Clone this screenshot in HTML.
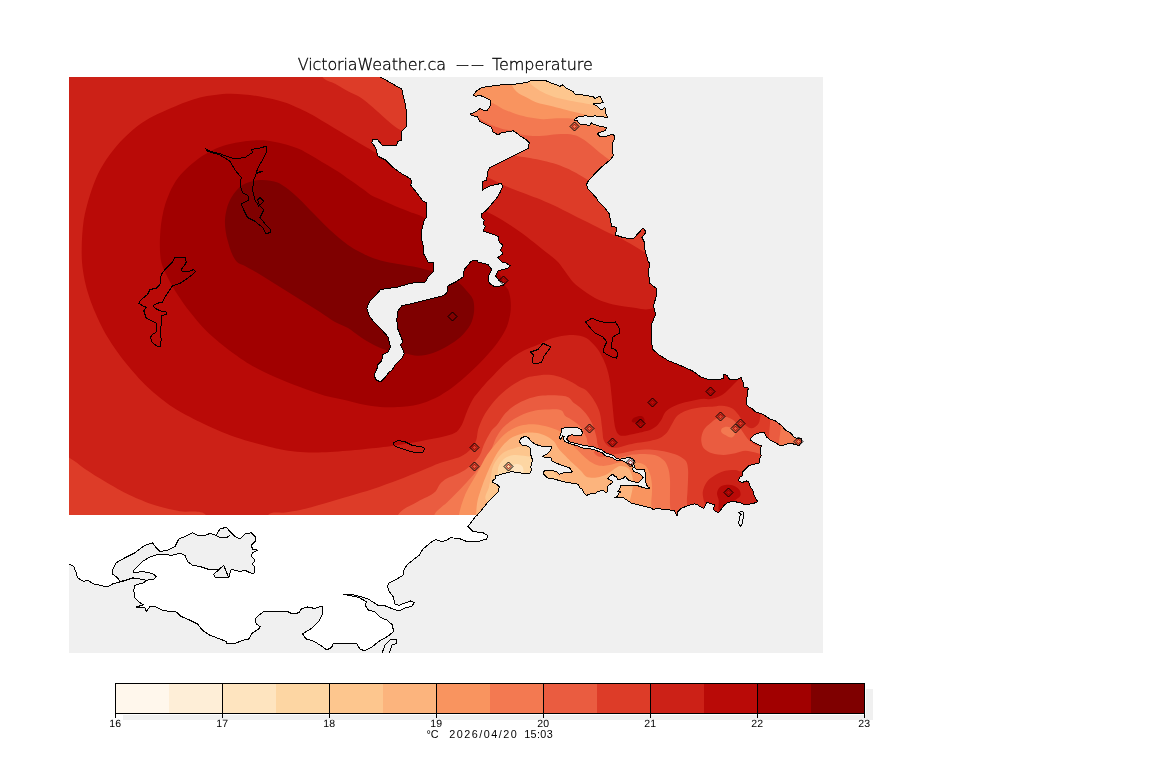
<!DOCTYPE html>
<html lang="en"><head><meta charset="utf-8"><title>VictoriaWeather.ca -- Temperature</title>
<style>html,body{margin:0;padding:0;background:#fff;}body{width:1152px;height:768px;overflow:hidden;font-family:"Liberation Sans",sans-serif;}svg{display:block;}</style>
</head><body>
<svg width="1152" height="768" viewBox="0 0 1152 768" shape-rendering="crispEdges">
<defs><clipPath id="data"><rect x="69" y="77" width="754" height="438"/></clipPath>
<clipPath id="map"><rect x="69" y="77" width="754" height="576"/></clipPath></defs>
<rect x="0" y="0" width="1152" height="768" fill="#ffffff"/>
<rect x="69" y="77" width="754" height="576" fill="#f0f0f0"/>
<g clip-path="url(#data)" shape-rendering="geometricPrecision">
<rect x="60" y="70" width="780" height="460" fill="#cc2117"/>
<path d="M322.5 70 C321.02 71.48 321.42 75.20 322.5 77 C324.68 80.66 331.28 81.67 335 83.75 C338.93 85.94 344.03 89.12 348 91.25 C351.69 93.24 356.97 95.24 360.5 97.5 C364.55 100.09 369.34 104.39 373 107.5 C376.85 110.76 381.65 115.49 385.5 118.75 C389.16 121.86 393.85 126.33 398 128.75 C399.74 129.77 402.33 130.64 404.25 131.25 C408.88 132.72 416.19 138.01 420 135 L420 70 L322.5 70 Z" fill="#dd3c28"/>
<path d="M69.25 457.75 C74.47 460.30 80.17 465.77 85 469 C90.88 472.93 98.90 477.92 105 481.5 C112.38 485.83 122.26 491.59 130 495.25 C137.30 498.70 147.30 502.80 155 505.25 C162.35 507.59 172.42 509.80 180 511.25 C187.74 512.73 200.84 509.04 206 515 C208.95 518.40 209.18 526.82 206 530 L60 530 L60 455 C62.32 453.27 66.65 456.48 69.25 457.75 Z" fill="#dd3c28"/>
<path d="M375 152.5 C373.80 151.88 372.40 150.71 371.25 150 C368.68 148.41 365.11 146.53 362.5 145 C358.73 142.79 353.75 139.75 350 137.5 C346.25 135.25 341.25 132.25 337.5 130 C333.75 127.75 328.75 124.75 325 122.5 C321.25 120.25 316.33 117.10 312.5 115 C308.82 112.98 303.81 110.49 300 108.75 C295.57 106.72 289.63 104.01 285 102.5 C277.67 100.11 267.61 97.76 260 96.5 C251.08 95.03 239.04 93.60 230 93.75 C220.93 93.90 208.82 95.37 200 97.5 C191.47 99.56 180.56 104.03 172.5 107.5 C163.26 111.48 150.81 116.83 142.5 122.5 C134.16 128.18 124.19 137.44 117.5 145 C111.43 151.86 104.35 161.95 100 170 C96.16 177.11 92.49 187.31 90 195 C87.62 202.36 84.85 212.35 83.75 220 C81.95 232.48 81.20 249.41 82 262 C82.48 269.59 84.35 279.63 86.25 287 C88.24 294.69 91.90 304.68 95 312 C98.27 319.72 103.21 329.80 107.5 337 C112.18 344.87 119.30 354.83 125 362 C131.28 369.90 140.16 380.08 147.5 387 C154.49 393.59 164.50 401.68 172.5 407 C180.32 412.21 191.55 417.89 200 422 C210.28 426.99 224.23 433.20 235 437 C246.02 440.88 261.17 444.63 272.5 447.5 C274.74 448.07 277.73 448.77 280 449.2 C284.98 450.14 291.66 451.20 296.7 451.7 C301.66 452.19 308.31 452.45 313.3 452.5 C318.31 452.55 324.99 452.25 330 452 C335.02 451.74 341.69 451.22 346.7 450.8 C351.69 450.38 358.32 449.69 363.3 449.2 C368.31 448.70 375.00 448.07 380 447.5 C384.00 447.04 389.32 446.38 393.3 445.8 C399.32 444.92 407.32 443.58 413.3 442.5 C418.32 441.59 424.99 440.20 430 439.2 C435.01 438.19 441.81 437.29 446.7 435.8 C449.80 434.86 454.14 433.69 456.7 431.7 C458.68 430.16 460.48 427.19 461.7 425 C463.01 422.66 464.02 419.19 465 416.7 C466.00 414.18 467.19 410.77 468.3 408.3 C469.66 405.29 471.52 401.28 473.3 398.5 C475.05 395.77 477.94 392.51 480 390 C481.76 387.86 484.14 385.05 486 383 C488.24 380.53 491.37 377.38 493.7 375 C497.15 371.46 501.57 366.54 505.3 363.3 C509.09 360.01 514.41 355.91 518.7 353.3 C521.63 351.51 525.86 349.70 529 348.3 C531.75 347.07 535.55 345.73 538.3 344.5 C540.86 343.35 544.11 341.48 546.7 340.4 C549.13 339.38 552.46 338.22 555 337.5 C557.45 336.81 560.78 336.08 563.3 335.7 C565.80 335.33 569.17 334.98 571.7 335 C574.20 335.02 577.56 335.24 580 335.8 C582.09 336.28 584.85 337.21 586.7 338.3 C588.68 339.47 590.87 341.68 592.5 343.3 C594.38 345.18 596.77 347.82 598.3 350 C599.78 352.11 601.35 355.19 602.5 357.5 C603.60 359.70 604.95 362.69 605.8 365 C606.70 367.44 607.67 370.78 608.3 373.3 C608.93 375.79 609.59 379.16 610 381.7 C610.32 383.67 610.57 386.32 610.8 388.3 C611.09 390.82 611.44 394.18 611.7 396.7 C611.95 399.19 612.26 402.51 612.5 405 C612.74 407.49 613.05 410.81 613.3 413.3 C613.56 415.82 613.84 419.19 614.2 421.7 C614.49 423.69 614.83 426.37 615.4 428.3 C615.86 429.86 616.54 431.99 617.5 433.3 C618.08 434.09 619.09 435.04 620 435.4 C621.40 435.96 623.50 435.80 625 435.7 C626.77 435.59 629.07 434.96 630.8 434.6 C632.58 434.24 634.93 433.71 636.7 433.3 C638.68 432.84 641.32 432.19 643.3 431.7 C645.31 431.20 648.09 430.80 650 430 C652.02 429.16 654.60 427.69 656.25 426.25 C658.06 424.67 659.96 422.02 661.25 420 C662.61 417.88 663.42 414.46 665 412.5 C666.51 410.63 669.19 408.73 671.25 407.5 C673.70 406.03 677.29 404.66 680 403.75 C682.93 402.76 686.98 401.90 690 401.25 C694.17 400.36 699.74 398.92 704 398.75 C705.42 398.69 707.29 399.35 708.7 399.2 C712.86 398.76 718.34 397.02 722 395 C724.24 393.77 726.62 391.23 728.5 389.5 C730.84 387.35 733.75 384.25 736 382 C736.90 381.10 738.08 379.88 739 379 C745.16 373.14 759.46 368.48 760 360 L700 290 L653.5 308 C651.30 308.64 648.29 309.44 646 309.5 C642.97 309.57 639.00 308.45 636 308 C629.10 306.96 619.79 306.13 613 304.5 C608.39 303.39 602.31 301.48 598 299.5 C594.03 297.67 589.09 294.50 585.5 292 C581.56 289.26 576.34 285.45 573 282 C570.39 279.31 567.75 275.00 565.5 272 C563.25 269.00 560.54 264.76 558 262 C556.37 260.24 553.85 258.23 552 256.7 C549.46 254.60 545.89 252.03 543.3 250 C538.28 246.06 531.81 240.53 526.7 236.7 C521.81 233.03 515.13 228.33 510 225 C505.10 221.82 498.42 217.81 493.3 215 C490.36 213.39 486.27 211.55 483.3 210 C477.76 207.10 470.35 203.24 465 200 L420 170 L375 152.5 Z" fill="#b90a07"/>
<path d="M425.5 218.5 C421.60 215.30 414.67 213.91 410 212 C405.52 210.16 399.46 207.90 395 206 C390.97 204.29 385.70 201.77 381.7 200 C378.95 198.78 375.11 197.49 372.5 196 C369.28 194.16 365.52 190.90 362.5 188.75 C358.77 186.09 353.75 182.62 350 180 C346.25 177.38 341.34 173.74 337.5 171.25 C333.83 168.87 328.75 166.00 325 163.75 C321.25 161.50 316.30 158.41 312.5 156.25 C308.21 153.82 302.60 150.28 298 148.5 C289.20 145.09 276.88 141.82 267.5 140.75 C260.79 139.99 251.70 140.41 245 141.25 C237.36 142.20 227.20 144.27 220 147 C212.97 149.67 204.05 154.53 198 159 C190.75 164.36 181.70 172.63 176.5 180 C171.74 186.75 167.48 197.12 165 205 C162.71 212.27 161.09 222.40 160.5 230 C159.76 239.57 159.26 252.61 161.25 262 C162.26 266.77 165.35 272.63 167.5 277 C170.17 282.43 174.24 289.41 177.5 294.5 C180.98 299.93 186.02 306.92 190 312 C194.26 317.44 200.14 324.59 205 329.5 C210.61 335.17 218.73 342.08 225 347 C232.21 352.65 242.13 359.82 250 364.5 C257.20 368.79 267.35 373.56 275 377 C282.37 380.31 292.44 384.17 300 387 C307.44 389.79 317.35 393.59 325 395.75 C331.80 397.67 341.12 399.14 348 400.75 C352.52 401.81 358.45 403.61 363 404.5 C368.20 405.52 375.21 406.62 380.5 407 C385.74 407.37 392.76 407.33 398 407 C404.04 406.62 412.13 405.94 418 404.5 C423.44 403.17 430.48 400.48 435.5 398 C441.06 395.26 448.01 390.68 453 387 C458.57 382.90 465.43 376.70 470.5 372 C475.17 367.68 481.21 361.70 485.5 357 C489.45 352.67 494.64 346.80 498 342 C500.99 337.73 504.79 331.83 506.75 327 C508.50 322.70 509.93 316.60 510.5 312 C510.96 308.28 510.96 303.22 510.5 299.5 C510.12 296.43 509.37 292.27 508 289.5 C507.15 287.78 504.98 286.15 504 284.5 C502.42 281.84 501.54 277.68 500 275 C496.27 268.50 491.08 259.39 485 255 L440 240 C433.80 235.29 431.51 223.44 425.5 218.5 Z" fill="#a10000"/>
<path d="M431 271 C427.11 269.92 421.94 268.37 418 267.5 C412.05 266.18 403.99 265.12 398 264 C392.74 263.01 385.66 261.94 380.5 260.5 C376.66 259.43 371.66 257.57 368 256 C364.92 254.68 360.94 252.61 358 251 C354.93 249.32 350.85 247.03 348 245 C342.27 240.93 335.19 234.74 330 230 C323.73 224.28 316.00 216.00 310 210 C305.50 205.50 299.86 199.11 295 195 C290.08 190.83 283.49 184.90 277.5 182.5 C272.58 180.53 265.29 179.64 260 180 C254.55 180.37 247.08 182.02 242.5 185 C237.59 188.20 232.65 194.78 230 200 C227.20 205.51 225.37 213.83 225 220 C224.64 226.04 225.91 234.17 227.5 240 C229.39 246.94 232.06 256.78 237 262 C238.84 263.95 242.63 264.74 245 266 C249.56 268.43 255.56 271.85 260 274.5 C266.08 278.12 274.00 283.25 280 287 C286.00 290.75 294.00 295.75 300 299.5 C306.00 303.25 314.06 308.16 320 312 C324.54 314.93 330.28 319.36 335 322 C338.75 324.10 344.29 325.84 348 328 C351.99 330.33 356.64 334.46 360.5 337 C364.15 339.40 369.10 342.53 373 344.5 C377.35 346.70 383.30 349.46 388 350.75 C392.68 352.03 399.22 352.20 404 353 C408.22 353.71 413.72 355.72 418 355.75 C422.57 355.78 428.65 354.42 433 353 C437.75 351.45 443.69 348.28 448 345.75 C451.95 343.43 457.16 340.13 460.5 337 C464.00 333.71 468.31 328.77 470.5 324.5 C472.28 321.03 473.62 315.88 474 312 C474.36 308.26 474.33 303.02 473 299.5 C471.67 295.99 467.96 292.33 465.5 289.5 C463.42 287.10 460.55 283.90 458 282 C454.45 279.36 449.10 276.67 445 275 C440.95 273.35 435.21 272.17 431 271 Z" fill="#7f0000"/>
<path d="M631.7 421.25 C631.59 417.82 638.74 415.17 642 416.25 C643.61 416.78 644.97 419.60 644.6 421.25 C644.30 422.58 642.32 423.69 641 424 C639.51 424.34 637.46 423.44 636 423 C634.67 422.60 631.75 422.64 631.7 421.25 Z" fill="#a10000"/>
<path d="M470 170 C473.64 173.97 481.76 174.46 486.67 176.67 C488.71 177.59 491.33 179.00 493.33 180 C496.33 181.50 500.28 183.60 503.33 185 C506.29 186.35 510.31 187.97 513.33 189.17 C517.30 190.74 522.67 192.66 526.67 194.17 C529.67 195.31 533.69 196.79 536.67 198 C541.61 200.00 548.16 202.76 553 205 C559.09 207.82 567.00 212.00 573 215 C579.00 218.00 587.00 222.00 593 225 C597.50 227.25 603.44 230.38 608 232.5 C610.59 233.70 614.18 235.00 616.75 236.25 C620.82 238.23 626.06 241.26 630 243.5 C634.85 246.27 641.07 250.38 646 253 C651.57 255.96 659.39 264.88 665 262 L700 70 L440 70 L470 170 Z" fill="#dd3c28"/>
<path d="M500 150 C503.85 152.92 510.33 154.61 515 155.83 C518.42 156.73 523.18 156.92 526.67 157.5 C530.68 158.16 536.03 159.13 540 160 C544.03 160.88 549.39 162.11 553.33 163.33 C557.41 164.60 562.75 166.62 566.67 168.33 C569.74 169.67 573.73 171.72 576.67 173.33 C579.22 174.73 582.50 176.83 585 178.33 C586.25 179.08 587.91 180.10 589.17 180.83 C591.40 182.12 594.13 185.42 596.67 185 L700 70 L440 70 L500 150 Z" fill="#ea5c40"/>
<path d="M465 110 C468.12 113.06 473.71 115.31 477.5 117.5 C479.73 118.79 482.72 120.47 485 121.67 C487.47 122.97 490.75 124.76 493.33 125.83 C496.25 127.04 500.27 128.38 503.33 129.17 C506.78 130.06 511.76 129.85 515 131.33 C515.87 131.73 516.63 132.92 517.5 133.33 C520.97 134.95 526.19 135.45 530 135.83 C533.98 136.22 539.34 136.08 543.33 135.83 C547.36 135.58 552.64 134.42 556.67 134.17 C560.66 133.92 566.03 133.68 570 134.17 C572.05 134.42 574.76 135.05 576.67 135.83 C579.89 137.14 583.83 139.68 586.67 141.67 C589.87 143.91 593.65 147.53 596.67 150 C599.15 152.03 602.42 154.78 605 156.67 C606.45 157.73 608.44 159.10 610 160 C612.90 161.68 616.72 165.68 620 165 L700 70 L440 70 L465 110 Z" fill="#f37951"/>
<path d="M476.67 103.33 C480.68 104.75 486.67 101.59 490.83 102.5 C494.98 103.41 499.46 107.42 503.33 109.17 C507.22 110.93 512.59 112.90 516.67 114.17 C520.61 115.39 525.95 116.74 530 117.5 C533.96 118.24 539.30 119.05 543.33 119.17 C547.34 119.29 552.66 118.46 556.67 118.33 C559.67 118.24 563.67 118.18 566.67 118.33 C569.18 118.46 572.56 118.58 575 119.17 C579.69 120.30 585.38 123.60 590 125 C594.41 126.34 600.51 127.28 605 128.33 C609.51 129.38 615.47 132.96 620 132 L700 70 L440 70 L476.67 103.33 Z" fill="#f9945f"/>
<path d="M510 76.67 C508.49 78.60 510.69 82.42 511.67 84.67 C512.71 87.03 514.76 89.93 516.67 91.67 C519.24 94.01 523.62 95.85 526.67 97.5 C529.62 99.10 533.52 101.34 536.67 102.5 C540.54 103.93 546.00 104.83 550 105.83 C554.00 106.83 559.33 108.17 563.33 109.17 C567.33 110.17 572.67 111.50 576.67 112.5 C579.67 113.25 583.73 114.05 586.67 115 C587.69 115.33 588.97 116.03 590 116.33 C595.86 118.02 603.98 120.99 610 120 L700 70 L510 76.67 Z" fill="#fcb47d"/>
<path d="M527.5 76.67 C526.53 78.04 528.28 80.58 529.17 82 C530.45 84.04 533.08 86.05 535 87.5 C537.32 89.26 540.73 91.19 543.33 92.5 C546.23 93.97 550.24 95.65 553.33 96.67 C557.25 97.97 562.64 99.12 566.67 100 C570.65 100.87 575.99 101.80 580 102.5 C583.99 103.20 589.31 104.20 593.33 104.67 C598.31 105.25 605.05 106.60 610 105.83 L700 70 L527.5 76.67 Z" fill="#fdc68e"/>
<path d="M268 530 C264.82 526.82 265.06 518.41 268 515 C271.37 511.10 279.91 513.30 285 512.5 C289.51 511.79 295.54 510.96 300 510 C306.83 508.52 315.77 505.89 322.5 504 C330.18 501.85 340.36 498.77 348 496.5 C355.51 494.27 365.56 491.45 373 489 C380.57 486.50 390.55 482.83 398 480 C405.55 477.13 415.52 473.04 423 470 C428.11 467.93 434.80 464.84 440 463 C442.95 461.95 447.01 460.95 450 460 C453.39 458.93 458.10 457.90 461.25 456.25 C464.57 454.51 468.77 451.56 471.25 448.75 C473.25 446.48 475.22 442.84 476.25 440 C477.28 437.14 477.22 432.94 478 430 C478.57 427.84 479.63 425.05 480.5 423 C481.77 420.01 483.62 416.08 485.3 413.3 C487.52 409.62 490.91 404.97 493.7 401.7 C496.45 398.47 500.47 394.45 503.7 391.7 C506.97 388.91 511.62 385.52 515.3 383.3 C518.65 381.27 523.28 378.72 527 377.5 C529.81 376.58 533.78 376.28 536.7 375.8 C538.68 375.48 541.30 374.93 543.3 374.8 C545.82 374.64 549.20 374.69 551.7 375 C553.99 375.28 556.99 376.03 559.2 376.7 C561.23 377.31 563.86 378.36 565.8 379.2 C567.85 380.09 570.54 381.41 572.5 382.5 C574.57 383.66 577.13 385.54 579.2 386.7 C581.13 387.78 584.05 388.65 585.8 390 C587.92 391.63 590.10 394.55 591.7 396.7 C593.09 398.57 594.70 401.24 595.8 403.3 C596.96 405.48 598.40 408.46 599.2 410.8 C599.87 412.76 600.44 415.47 600.8 417.5 C601.20 419.73 601.43 422.75 601.7 425 C601.94 427.01 602.23 429.69 602.5 431.7 C602.84 434.27 602.72 437.87 603.75 440.25 C604.71 442.45 606.68 445.28 608.75 446.5 C610.72 447.65 613.97 447.84 616.25 447.75 C619.34 447.63 623.24 445.96 626.25 445.25 C629.61 444.46 634.10 443.38 637.5 442.75 C641.23 442.06 646.30 441.71 650 440.9 C653.05 440.23 657.22 439.43 660 438 C662.38 436.78 665.24 434.51 667 432.5 C668.95 430.27 670.47 426.53 672 424 C673.47 421.58 675.01 418.01 677 416 C678.75 414.22 681.74 412.57 684 411.5 C686.42 410.35 689.89 409.37 692.5 408.75 C695.90 407.95 700.53 407.33 704 407 C706.39 406.77 709.60 406.85 712 406.7 C715.01 406.51 719.00 405.57 722 405.8 C725.08 406.04 729.31 406.78 732 408.3 C734.47 409.70 736.90 412.80 738.7 415 C740.97 417.79 742.60 422.62 745.3 425 C746.98 426.48 749.77 428.51 752 428.3 C754.50 428.07 757.31 425.39 758.7 423.3 C760.29 420.91 759.59 416.50 761 414 C763.92 408.83 769.15 401.04 775 400 L840 430 L810 480 L770 530 L268 530 Z" fill="#dd3c28"/>
<path d="M398 530 C394.82 526.82 395.89 518.97 398 515 C401.40 508.61 411.85 505.32 418 501.5 C423.13 498.31 431.18 495.73 435.5 491.5 C437.38 489.66 438.30 486.00 440 484 C441.59 482.14 444.16 480.03 446.25 478.75 C448.68 477.25 452.41 476.20 455 475 C458.04 473.59 462.21 471.86 465 470 C467.88 468.09 471.32 464.96 473.75 462.5 C475.81 460.41 478.53 457.53 480 455 C481.61 452.23 482.47 447.94 483.75 445 C484.89 442.39 486.61 438.99 488 436.5 C489.11 434.50 490.58 431.80 492 430 C493.31 428.34 495.63 426.62 497 425 C499.78 421.71 502.37 416.46 505.3 413.3 C507.95 410.44 512.03 407.13 515.3 405 C518.58 402.86 523.33 400.56 527 399.2 C530.86 397.77 536.22 396.38 540.3 395.8 C544.76 395.16 550.81 395.01 555.3 395.3 C559.37 395.56 565.11 395.57 568.7 397.5 C570.49 398.47 571.77 401.15 573.3 402.5 C574.93 403.94 577.54 405.30 579.2 406.7 C581.08 408.29 583.40 410.63 585 412.5 C586.39 414.13 588.04 416.49 589.2 418.3 C590.13 419.75 591.29 421.74 592 423.3 C593.11 425.74 594.22 429.14 595 431.7 C595.60 433.65 596.30 436.29 596.7 438.3 C597.04 439.99 596.96 442.36 597.5 444 C598.24 446.24 599.50 449.32 601.25 450.9 C603.06 452.53 606.35 453.59 608.75 454 C612.08 454.57 616.65 453.82 620 453.4 C623.79 452.92 628.72 451.47 632.5 450.9 C636.23 450.33 641.23 449.70 645 449.6 C648.75 449.50 653.77 449.78 657.5 450.25 C661.29 450.73 666.32 451.70 670 452.75 C673.08 453.63 677.21 454.92 680 456.5 C682.09 457.69 684.97 459.47 686.25 461.5 C687.48 463.45 687.74 466.70 688 469 C688.39 472.35 688.07 476.88 688 480.25 C687.92 483.63 687.68 488.13 687.5 491.5 C687.34 494.50 686.85 498.49 686.9 501.5 C686.93 503.46 687.43 506.04 687.5 508 C687.73 514.60 691.72 525.39 687 530 L398 530 Z" fill="#ea5c40"/>
<path d="M434 530 C430.84 526.79 432.47 519.14 434.25 515 C436.45 509.88 443.54 505.92 447.5 502 C450.66 498.87 454.89 494.69 458 491.5 C460.74 488.69 464.35 484.89 467 482 C469.44 479.34 472.61 475.71 475 473 C477.11 470.61 480.11 467.57 482 465 C483.87 462.45 485.90 458.73 487.5 456 C488.89 453.62 490.81 450.48 492 448 C493.40 445.09 494.49 440.86 496 438 C497.68 434.81 500.29 430.69 502.7 428 C504.87 425.57 508.32 422.85 511 421 C514.59 418.54 519.69 415.69 523.7 414 C527.05 412.59 531.73 411.16 535.3 410.5 C539.26 409.76 544.67 409.45 548.7 409.5 C552.71 409.55 558.61 408.66 562 410.8 C563.48 411.73 563.76 414.57 565 415.8 C566.43 417.22 569.10 418.11 570.8 419.2 C572.62 420.36 575.05 421.92 576.7 423.3 C578.33 424.66 580.46 426.58 581.7 428.3 C582.68 429.66 583.45 431.80 584.2 433.3 C584.95 434.80 586.13 436.72 586.7 438.3 C587.29 439.95 587.11 442.49 588 444 C588.92 445.55 590.96 447.05 592.5 448 C594.56 449.27 597.78 450.04 600 451 C602.28 451.99 605.25 453.45 607.5 454.5 C609.75 455.55 612.55 457.62 615 458 C617.24 458.34 620.27 457.42 622.5 457 C625.53 456.44 629.45 455.04 632.5 454.6 C636.22 454.07 641.25 453.81 645 454 C648.79 454.20 654.00 454.44 657.5 455.9 C660.09 456.98 663.26 459.29 665 461.5 C666.77 463.74 668.00 467.49 668.75 470.25 C669.54 473.17 669.81 477.23 670 480.25 C670.23 483.99 670.00 489.00 670 492.75 C670.00 496.12 669.87 500.63 670 504 C670.09 506.41 670.55 509.59 670.6 512 C670.71 517.40 673.88 526.24 670 530 L434 530 Z" fill="#f37951"/>
<path d="M594 451.5 C595.04 450.00 598.25 452.00 600 452.5 C601.87 453.04 606.01 453.05 606 455 C605.99 456.62 602.62 457.00 601 457 C599.38 457.00 597.22 456.06 596 455 C595.09 454.21 593.31 452.49 594 451.5 Z" fill="#ea5c40"/>
<path d="M458 530 C455.11 526.95 458.03 520.14 458.75 516 C459.87 509.52 462.45 501.06 465 495 C467.99 487.88 473.78 479.27 477.5 472.5 C480.38 467.26 483.72 459.99 487 455 C489.40 451.34 493.19 446.86 496 443.5 C497.94 441.19 500.48 438.04 502.7 436 C504.99 433.89 508.29 431.30 511 429.75 C513.82 428.14 517.86 426.44 521 425.6 C523.92 424.82 527.98 424.36 531 424.3 C534.01 424.24 538.03 424.70 541 425.2 C544.05 425.72 548.06 426.75 551 427.7 C553.55 428.52 557.00 429.62 559.3 431 C560.89 431.95 562.72 433.66 564 435 C565.02 436.07 566.06 437.76 567 438.9 C568.44 440.63 570.45 442.86 572 444.5 C573.82 446.43 576.38 448.88 578.25 450.75 C580.12 452.62 582.52 455.23 584.5 457 C586.29 458.60 588.73 460.71 590.75 462 C592.51 463.13 595.00 464.48 597 465.1 C598.81 465.66 601.36 466.00 603.25 466 C605.14 466.00 607.65 465.50 609.5 465.1 C611.41 464.68 613.86 463.74 615.75 463.25 C618.20 462.61 621.47 461.61 624 461.4 C627.29 461.13 631.75 461.39 635 462 C638.10 462.58 642.55 463.26 645 465.25 C647.35 467.16 648.95 471.16 650 474 C651.06 476.86 651.61 480.96 651.9 484 C652.18 486.99 652.00 491.00 651.9 494 C651.80 497.00 651.11 501.00 651.25 504 C651.36 506.43 652.35 509.58 652.5 512 C652.84 517.39 655.87 526.23 652 530 L458 530 Z" fill="#f9945f"/>
<path d="M476 530 C473.03 527.03 475.79 520.19 476 516 C476.23 511.48 476.60 505.43 477.5 501 C478.51 496.07 480.80 489.73 482.5 485 C484.25 480.12 486.86 473.72 489 469 C490.94 464.72 493.58 459.02 496 455 C497.86 451.90 500.59 447.89 503 445.2 C505.15 442.79 508.26 439.71 511 438 C513.74 436.29 517.92 434.97 521 434 C522.91 433.40 525.50 432.64 527.5 432.5 C531.10 432.24 535.99 432.65 539.5 433.5 C542.18 434.15 545.61 435.63 548 437 C550.06 438.18 552.71 440.04 554.3 441.8 C555.82 443.48 556.89 446.44 558.25 448.25 C559.92 450.47 562.58 453.08 564.5 455.1 C566.34 457.03 568.82 459.57 570.75 461.4 C572.57 463.13 575.17 465.27 577 467 C578.54 468.46 580.54 470.46 582 472 C583.24 473.31 584.41 475.65 586 476.5 C588.40 477.79 592.28 477.84 595 477.75 C596.84 477.69 599.24 477.02 601 476.5 C603.00 475.91 605.66 475.00 607.5 474 C609.29 473.03 611.29 471.11 613 470 C615.03 468.69 617.60 466.33 620 466 C622.45 465.66 626.12 466.39 628 468 C630.96 470.54 632.52 476.13 633 480 C633.74 486.02 631.41 494.10 630 500 C627.79 509.23 627.70 524.45 620 530 L476 530 Z" fill="#fcb47d"/>
<path d="M486 500 C483.51 496.87 488.19 490.92 489 487 C489.68 483.71 490.44 479.31 491 476 C491.32 474.11 491.54 471.56 492 469.7 C492.38 468.16 493.04 466.14 493.7 464.7 C494.31 463.37 495.37 461.71 496.2 460.5 C497.11 459.18 498.40 457.46 499.5 456.3 C500.65 455.08 502.31 453.54 503.7 452.6 C505.09 451.66 507.15 450.75 508.7 450.1 C510.16 449.49 512.19 448.88 513.7 448.4 C515.28 447.89 517.37 447.12 519 446.8 C520.77 446.45 523.20 446.06 525 446.2 C526.55 446.32 528.55 446.96 530 447.5 C534.71 449.27 541.49 451.39 545 455 C548.46 458.56 549.15 465.93 552 470 C553.95 472.78 557.38 475.85 560 478 C564.18 481.43 574.77 482.60 575 488 C575.25 493.76 565.44 498.09 560 500 C551.51 502.98 539.00 500.00 530 500 C516.80 500.00 494.22 510.33 486 500 Z" fill="#fdc68e"/>
<path d="M496 482 C494.25 479.87 497.42 475.73 497.8 473 C498.03 471.39 497.85 469.17 498.25 467.6 C498.63 466.14 499.47 464.26 500.3 463 C501.32 461.44 503.01 459.53 504.5 458.4 C505.84 457.39 507.90 456.40 509.5 455.9 C511.18 455.38 513.54 455.16 515.3 455.1 C517.07 455.04 519.44 455.32 521.2 455.5 C522.95 455.68 525.27 455.97 527 456.3 C528.52 456.59 530.78 456.56 532 457.5 C534.02 459.06 535.45 462.51 536 465 C537.09 469.99 538.72 478.50 535 482 C526.49 490.03 503.42 491.05 496 482 Z" fill="#fdd6a3"/>
<path d="M512 473 C511.01 471.25 511.20 468.15 512 466.3 C512.28 465.66 513.08 465.02 513.7 464.7 C514.60 464.23 515.99 464.00 517 464 C518.01 464.00 519.41 464.22 520.3 464.7 C521.23 465.21 522.39 466.22 522.8 467.2 C523.58 469.08 523.98 472.34 522.8 474 C521.73 475.50 518.83 476.19 517 476 C515.26 475.82 512.86 474.52 512 473 Z" fill="#fee4bf"/>
<path d="M701.2 440 C701.13 436.91 702.19 432.70 703.7 430 C705.08 427.54 708.17 425.15 710.3 423.3 C712.19 421.65 714.71 419.31 717 418.3 C719.32 417.28 722.77 416.49 725.3 416.7 C727.44 416.88 730.19 418.05 732 419.2 C734.38 420.72 736.90 423.62 738.7 425.8 C740.42 427.88 742.14 431.09 743.7 433.3 C745.15 435.35 746.93 438.22 748.7 440 C750.45 441.76 753.06 443.92 755.3 445 C757.17 445.90 759.99 446.19 762 446.7 C765.90 447.69 774.87 445.98 775 450 C775.13 454.10 766.10 454.07 762 454.2 C759.93 454.27 757.33 452.93 755.3 452.5 C752.32 451.87 748.34 450.68 745.3 450.8 C742.21 450.92 738.33 452.70 735.3 453.3 C731.85 453.98 727.22 455.00 723.7 455 C720.15 455.00 715.34 454.49 712 453.3 C709.26 452.32 705.48 450.60 703.7 448.3 C702.10 446.25 701.26 442.60 701.2 440 Z" fill="#ea5c40"/>
<path d="M722 428.3 C723.07 427.14 725.43 426.66 727 426.7 C729.14 426.75 732.17 427.69 733.7 429.2 C734.64 430.13 735.49 431.99 735.3 433.3 C735.07 434.89 733.54 437.07 732 437.5 C729.93 438.08 727.16 436.06 725.3 435 C723.93 434.22 721.71 433.19 721.2 431.7 C720.86 430.71 721.29 429.07 722 428.3 Z" fill="#f37951"/>
<path d="M770.3 410 C768.21 411.71 770.41 416.30 770.3 419 C770.06 425.01 769.13 433.00 768.7 439 C768.46 442.30 766.03 447.34 768 450 C775.70 460.41 798.93 466.73 810 460 C820.57 453.58 826.61 430.46 820 420 L770.3 410 Z" fill="#ea5c40"/>
<path d="M781 415 C778.75 416.98 781.17 422.00 781 425 C780.65 431.03 779.26 438.99 778.7 445 C778.42 447.99 776.08 452.68 778 455 C786.09 464.78 810.51 468.43 820 460 C828.97 452.03 827.93 429.01 820 420 C812.21 411.14 789.86 407.21 781 415 Z" fill="#f37951"/>
<path d="M750 465 C747.19 465.91 745.65 470.93 742.8 471.7 C740.57 472.30 737.60 470.16 735.3 470 C732.30 469.78 728.22 470.09 725.3 470.8 C722.14 471.57 718.09 473.33 715.3 475 C712.55 476.64 708.92 479.14 707 481.7 C705.04 484.30 703.27 488.48 702.8 491.7 C702.44 494.18 703.18 497.55 703.7 500 C704.03 501.54 705.02 503.45 705.3 505 C706.10 509.43 702.74 516.89 706 520 L790 520 L790 470 C782.00 460.93 761.51 461.28 750 465 Z" fill="#cc2117"/>
<path d="M717 493.3 C717.15 491.41 718.16 488.84 719.5 487.5 C720.84 486.16 723.43 485.29 725.3 485 C727.80 484.61 731.33 484.91 733.7 485.8 C735.71 486.56 738.39 488.16 739.5 490 C740.40 491.51 740.93 494.16 740.3 495.8 C739.60 497.63 736.91 498.88 735.3 500 C733.80 501.04 731.13 501.56 730 503 C728.65 504.72 729.57 508.48 728 510 C726.22 511.72 722.03 513.42 720 512 C717.03 509.93 719.34 503.56 718.7 500 C718.33 497.96 716.84 495.37 717 493.3 Z" fill="#b90a07"/>
</g>
<g clip-path="url(#map)">
<path d="M380.5 77 L388 81.25 L396.75 86.25 L401.75 88.75 L403 95 L405.5 105 L406.75 115 L406.75 126.25 L401.75 131.25 L401.75 140 L398 141.25 L396.75 145 L381.75 145 L378 140 L373 139.5 L371.75 142.5 L375.5 147.5 L378 156.25 L385.5 160 L393 167.5 L401.75 173.75 L410.5 178.75 L411.75 182.5 L410.5 185 L415.5 191.25 L423 201.25 L426.75 202.5 L426.75 217.5 L424.25 220 L421.75 230 L421.75 240 L423 245 L423 252.5 L428 262 L433 262 L433 272 L428 277 L425.5 282 L410.5 283.25 L398 287 L380.5 289.5 L375.5 295.75 L369.25 302 L366.75 308.25 L369.25 315.75 L373 320.75 L380.5 328.25 L388 337 L390.5 347 L388 352 L383 354.5 L381.75 360.75 L378 364.5 L376.75 369.5 L374.25 374.5 L375.5 379.5 L380.5 382 L385.5 377 L389.25 372 L391.75 370.75 L395.5 364.5 L401.75 358.25 L404.25 353.25 L400.5 344.5 L403 342 L398 329.5 L396.75 319.5 L398 310.75 L401.75 305.75 L413 303.25 L428 299.5 L443 295.75 L446.75 293.25 L448 285.75 L455.5 282 L463 277 L464.25 269.5 L470.5 262 L473 260 L476.75 260 L478 262 L478 262 L488 264.5 L491.75 269.5 L488 277 L489.25 283.25 L494.25 286.5 L503 285.75 L504.25 283.25 L499.25 280.75 L495.5 275.75 L498 270.75 L508 268.25 L510.5 265.75 L504.25 262 L501.75 262 L498 257.5 L503 253.75 L500.5 250 L503 245 L499.25 242.5 L498 236.25 L488 232.5 L483 231.25 L485.5 226.25 L483 223.75 L484.25 220 L481.75 217.5 L481.75 213.75 L486.75 210 L493 202.5 L496.67 198 L500 192.5 L502.5 186.67 L501.67 183.33 L490 185.83 L482.5 190 L482.5 181.67 L486.67 180 L487.5 171.67 L490 167.5 L498.33 163.33 L506.67 159.17 L516.67 154.17 L525 150 L528.33 148.33 L529.17 142.5 L526.67 140 L520 135.83 L516.67 133 L513.33 130.83 L505.83 132 L500 133.33 L498.33 135 L492.5 131.67 L491.67 127.5 L485 124.17 L480 121.67 L477.5 116.67 L472.5 115.83 L470 114.17 L475.83 111.67 L480 108.67 L483.33 110 L487.5 110 L489.17 107.5 L490.83 104.17 L490 100 L485 97.5 L480 95.33 L475.83 96.33 L473.33 95 L476.67 90.83 L481.67 87.5 L493.33 85.83 L503.33 84.67 L515 84.17 L526.67 82.5 L531.67 80.33 L545 80.33 L550 82.5 L556.67 85 L560 86.33 L562.5 85 L566.67 88.33 L573.33 91.67 L575 94.17 L583.33 95 L593.33 96.67 L595 98.33 L600 96.33 L601.67 99.17 L603.33 102.5 L600 103.33 L593.33 103.83 L596.67 105.83 L599.17 108.33 L601.67 110 L605 107.5 L605.83 113.33 L607.5 117.5 L601.67 116.67 L595 115.83 L590 116.67 L585.83 115.83 L578.33 116.67 L575 119.17 L574.17 120.83 L576.67 120 L580 124.17 L586.67 125 L589.17 125.83 L591.67 122.5 L593.33 124.17 L598.33 125.83 L606.67 127.5 L605 130.83 L599.17 132.5 L597.5 134.17 L600 136.67 L605 136.67 L610 135 L613.33 134.17 L615 137.5 L612.5 143.33 L612.5 150 L613.33 155.83 L610 160 L605 164.17 L600 168.33 L595 173.33 L591.67 177.5 L588.33 180.83 L586.67 184.17 L587.5 188.33 L591.67 192.5 L595 196.67 L596.67 198 L598 201.25 L605.5 208.75 L609.25 213.75 L610.5 220 L611.75 226.25 L616.75 227.5 L615.5 235 L623 237.5 L633 239 L634 238 L638.5 233 L643 228 L646.2 232 L642 237.5 L644.5 242.5 L645 250 L648.3 262 L649.75 262 L648.5 272 L649.75 283.25 L656 288.25 L656 297 L653.5 305.75 L655.5 314.5 L651.5 324.5 L651 339.5 L653 349.5 L658.5 354.5 L668.5 360.75 L681 365.75 L692.25 370.75 L701 377 L708.5 379.5 L718.5 380 L723.5 378.25 L723.5 374 L727.25 375.75 L729.75 379.5 L736 380 L741 377.5 L743.5 383.25 L744 387 L748.5 388.25 L747.83 390 L747 396.67 L746.17 404.17 L748.67 406.67 L752 408.33 L755.33 411.67 L760.33 413.33 L765.33 415.83 L770.33 419.17 L775.33 420.83 L778.67 423.33 L782 425.83 L785.33 430 L790.33 432.5 L793.67 436.67 L797 438.33 L801.17 438.67 L802 441.67 L798.67 445.83 L794.5 444.17 L789.5 443.33 L783.67 445 L780.33 445.83 L775.33 442.5 L770.33 440 L766.17 436.67 L764.5 433 L760.33 432.5 L755.33 434.17 L751.17 437.5 L750 439.67 L753.67 442.5 L758.67 445 L761.17 445.83 L760.33 450.83 L761.17 455.83 L759.5 459.17 L759 463.33 L753.67 464.17 L748.67 465.83 L745.33 469.17 L742.83 471.67 L742 475.83 L739.5 477.5 L738.67 480.83 L742 482.5 L747 480.83 L748.67 481.67 L750.33 487.5 L752.83 490 L753.67 494.17 L756.17 499.17 L757.83 501.67 L753.67 503.33 L748.67 504.17 L745.33 505 L742 503.33 L738.67 502.5 L733.67 501.33 L727.83 502.5 L724.5 505 L722 508.33 L718.67 512.5 L715.33 511.67 L713.67 509.17 L714.5 505 L710.33 503.33 L707 502.5 L705.33 505 L703.67 508.33 L700.33 506.67 L697.83 505 L694.5 503.83 L690.33 505 L685.33 506.67 L681.17 508.33 L677.83 511.67 L677 515.83 L675.67 513.33 L674.5 510.83 L670.33 510 L663.67 509.17 L655.33 508.67 L653.67 510 L652 508.33 L645.33 506.67 L638.67 505 L632 503.33 L632.08 504 L630 502.08 L626.67 500 L623.33 497.5 L619.17 497.08 L614.17 497.5 L615.83 497.08 L617.92 495.83 L618.33 493.33 L621.25 492.08 L617.92 491.67 L618.75 490 L619.83 489.17 L620.42 486.67 L621.25 485 L623.33 485.42 L627.5 485.83 L631.67 485.67 L634.17 485 L637.5 485.67 L641.67 487.08 L645.83 488.33 L649.17 488.75 L649.58 487.5 L647.5 486.67 L645.83 482.5 L645 478.33 L645.83 475 L645 471.67 L644.17 469.17 L641.67 469.58 L638.33 470 L635.42 468.75 L634.17 465.83 L633.33 463.33 L634.58 461.25 L632.92 459.17 L630 457.08 L626.67 457.92 L623.33 458.75 L619.17 459.17 L615.83 457.92 L613.33 455.42 L609.17 454.17 L605 452.5 L601.67 450 L596.67 448.33 L592.5 446.25 L585 445.83 L580 444.58 L575 443.33 L569.17 441.67 L566.67 439.17 L568.33 435.83 L571.67 434.67 L576.67 435.83 L581.67 435 L582.5 432.5 L580.83 429.17 L576.67 427.5 L566.67 427.5 L561.67 428.33 L560.83 434.17 L559.17 438.33 L560.83 439.17 L562.5 435.83 L564.17 436.67 L563.33 439.17 L565 441.67 L571.67 444.17 L580 446.67 L580 447.08 L584.17 448.33 L590 448.75 L594.17 449.58 L599.17 451.67 L603.33 453.33 L604.58 455.42 L608.33 456.67 L612.5 457.5 L614.58 459.58 L617.5 460.42 L621.67 460.42 L624.17 461.67 L626.67 462.92 L629.17 464.17 L631.67 465 L633.33 467.5 L632.5 468.75 L633.33 471.25 L636.67 472.5 L640 474.17 L642.5 476.67 L643.33 477.92 L641.67 479.17 L639.58 481.67 L637.5 482.5 L635 482.08 L631.67 481.25 L628.33 480 L626.67 478.33 L625.42 476.25 L624.17 477.5 L622.5 478.75 L620 479.17 L617.5 479.17 L616.67 476.67 L614.58 476.25 L612.5 474.17 L610.83 475.42 L608.75 477.5 L607.5 478.33 L610 480 L612.5 481.25 L612.92 482.5 L610.83 483.75 L608.33 485.42 L607.08 486.67 L607.5 489.17 L607.5 491.67 L605.83 492.5 L604.17 491.67 L603.75 490.42 L600.83 490.83 L596.67 492.08 L595.42 493.33 L592.5 493.33 L588.33 494.58 L586.67 495.42 L585 494.17 L583.33 491.67 L582.5 489.17 L580.83 488.75 L580 487.92 L578.33 484.17 L573.33 483.33 L566.67 482.5 L560 480.83 L555 479.17 L548.33 478.33 L544.17 475 L543.33 472.5 L545 470 L550.83 470 L556.67 471.67 L559.17 474.17 L564.17 472.5 L570 472.5 L572.5 471.67 L569.17 467.5 L563.33 465.83 L556.67 463.33 L551.67 460.83 L550.83 457.5 L546.67 457.5 L542.5 456.67 L546.67 454.17 L550.83 450 L551.67 447 L546.67 446.67 L540 445.83 L535 444.17 L530.83 440.83 L528.33 437.5 L525 436.33 L520.83 438.33 L519.5 441.67 L521.67 445 L526.67 445.83 L530 447.5 L530.83 455 L532.5 460 L530.83 466.67 L531.33 470 L530 473.33 L523.33 473.33 L518.33 472.5 L511.67 471.67 L501.67 474.17 L495.83 475.83 L495 479.17 L492 480.83 L492.5 482.5 L496.67 484.17 L499.17 486.67 L498.33 491.67 L493.33 496.67 L488.33 501.67 L481.67 510 L477 515.33 L476.75 516 L476.75 530 L830 530 L830 70 L380.5 70 Z" fill="#f0f0f0"/>
<path d="M69 515 L476.75 514.75 L468 526.5 L473 531.5 L483 532.75 L487.5 535.25 L486.75 539 L478 541.5 L466.75 541.5 L459.25 538.5 L450.5 537.75 L446.75 540.25 L441.75 541.5 L435.5 539.5 L430.5 542.75 L423 549 L419.25 555.25 L414.25 559 L408 564 L404.25 569 L403 575.25 L396.75 579 L389.25 582.75 L387.5 586.5 L389.25 591.5 L393 596.5 L395 604 L399.25 605.25 L405.5 602.75 L410.5 601 L414.25 602.75 L411.75 606.5 L405.5 607.75 L399.25 611 L393 609 L385.5 606 L378 605.25 L374.25 602.75 L368 599 L360.5 596.5 L353 594.75 L348 594.5 L343.75 594.5 L350 595.5 L358.3 597.3 L366.7 601.7 L365 605 L368.3 610 L375 611.7 L380 617.3 L386.7 620 L392.7 625 L393.3 631.7 L388.3 636 L378.3 641.7 L371.7 647.3 L365 650.7 L360 649.3 L356.7 643.3 L343.3 644 L333.3 643.3 L331.7 647.3 L326.7 650 L320 645 L313.3 641 L306.25 639 L302.5 634 L306.25 631.5 L312.5 627.75 L318.75 621.5 L322.5 614 L322 606 L315 608.5 L307.5 607 L301.25 609 L298.75 612.75 L292.5 614 L287.5 611.5 L280 611 L272.5 612 L263.75 611.5 L258.75 615.25 L255 619 L256.25 624 L260 626.5 L258.75 629 L252.5 632.75 L248.75 639 L242.5 640.25 L235 643.5 L226.25 644 L226.25 641.5 L220 639 L210 635.25 L202.5 630.25 L197.5 624 L190 620.25 L181.25 616.5 L176.25 612 L170 611.5 L162.5 610.25 L156.25 607 L150 606.5 L146.25 611.5 L145 607.75 L136.25 607 L143.75 604.75 L140 602.75 L135 597.75 L133.75 590.25 L135 585.25 L143.75 582.75 L146.25 580.25 L140 579 L132.5 578.25 L126.25 580.25 L120 582 L112.5 584 L107.5 587 L100 585.25 L93.75 584 L87.5 580.25 L83.75 581.5 L77.5 577.75 L76.25 572.75 L73.75 566.5 L69.25 564 L69 564 Z" fill="#ffffff"/>
<path d="M112.5 570.25 L116.25 562.75 L125 557.75 L135 552.75 L145 545.25 L152.5 542.75 L156.25 547.75 L160 551.5 L167.5 550.25 L175 546.5 L178.75 539 L185 536.5 L192.5 532.75 L197.5 535.25 L205 535.25 L210 533.5 L216.25 535.25 L220 529 L226.25 527.25 L230 531.5 L235 536.5 L240 539 L245 534 L251.25 532.75 L255 536.5 L255 541.5 L251.25 545.25 L252.5 549 L257.5 550.25 L252.5 552.75 L251.25 556.5 L255 560.25 L252.5 564 L255 567.75 L253.75 574 L250 572.75 L245 570.25 L240 571.5 L235 570.25 L231.25 569 L228.75 577.75 L215 577 L213.75 574 L220 569 L207.5 569 L200 566.5 L192.5 565.25 L187.5 561.5 L185 555.25 L180 553.25 L172.5 555.25 L165 554.75 L157.5 554.5 L150 557 L142.5 561.5 L137.5 566.5 L133.75 570.25 L133.75 572.75 L142.5 571.5 L152.5 573.5 L156.25 576.5 L153.75 579 L146.25 580.25 L140 579 L132.5 577.75 L125 580.25 L120 581.5 L117.5 577.75 L112.5 574 Z" fill="#f0f0f0" stroke="#000" stroke-width="1"/>
<g fill="none" stroke="#000" stroke-width="1" stroke-linejoin="round">
<path d="M380.5 77 L388 81.25 L396.75 86.25 L401.75 88.75 L403 95 L405.5 105 L406.75 115 L406.75 126.25 L401.75 131.25 L401.75 140 L398 141.25 L396.75 145 L381.75 145 L378 140 L373 139.5 L371.75 142.5 L375.5 147.5 L378 156.25 L385.5 160 L393 167.5 L401.75 173.75 L410.5 178.75 L411.75 182.5 L410.5 185 L415.5 191.25 L423 201.25 L426.75 202.5 L426.75 217.5 L424.25 220 L421.75 230 L421.75 240 L423 245 L423 252.5 L428 262 L433 262 L433 272 L428 277 L425.5 282 L410.5 283.25 L398 287 L380.5 289.5 L375.5 295.75 L369.25 302 L366.75 308.25 L369.25 315.75 L373 320.75 L380.5 328.25 L388 337 L390.5 347 L388 352 L383 354.5 L381.75 360.75 L378 364.5 L376.75 369.5 L374.25 374.5 L375.5 379.5 L380.5 382 L385.5 377 L389.25 372 L391.75 370.75 L395.5 364.5 L401.75 358.25 L404.25 353.25 L400.5 344.5 L403 342 L398 329.5 L396.75 319.5 L398 310.75 L401.75 305.75 L413 303.25 L428 299.5 L443 295.75 L446.75 293.25 L448 285.75 L455.5 282 L463 277 L464.25 269.5 L470.5 262 L473 260 L476.75 260 L478 262 L478 262 L488 264.5 L491.75 269.5 L488 277 L489.25 283.25 L494.25 286.5 L503 285.75 L504.25 283.25 L499.25 280.75 L495.5 275.75 L498 270.75 L508 268.25 L510.5 265.75 L504.25 262 L501.75 262 L498 257.5 L503 253.75 L500.5 250 L503 245 L499.25 242.5 L498 236.25 L488 232.5 L483 231.25 L485.5 226.25 L483 223.75 L484.25 220 L481.75 217.5 L481.75 213.75 L486.75 210 L493 202.5 L496.67 198 L500 192.5 L502.5 186.67 L501.67 183.33 L490 185.83 L482.5 190 L482.5 181.67 L486.67 180 L487.5 171.67 L490 167.5 L498.33 163.33 L506.67 159.17 L516.67 154.17 L525 150 L528.33 148.33 L529.17 142.5 L526.67 140 L520 135.83 L516.67 133 L513.33 130.83 L505.83 132 L500 133.33 L498.33 135 L492.5 131.67 L491.67 127.5 L485 124.17 L480 121.67 L477.5 116.67 L472.5 115.83 L470 114.17 L475.83 111.67 L480 108.67 L483.33 110 L487.5 110 L489.17 107.5 L490.83 104.17 L490 100 L485 97.5 L480 95.33 L475.83 96.33 L473.33 95 L476.67 90.83 L481.67 87.5 L493.33 85.83 L503.33 84.67 L515 84.17 L526.67 82.5 L531.67 80.33 L545 80.33 L550 82.5 L556.67 85 L560 86.33 L562.5 85 L566.67 88.33 L573.33 91.67 L575 94.17 L583.33 95 L593.33 96.67 L595 98.33 L600 96.33 L601.67 99.17 L603.33 102.5 L600 103.33 L593.33 103.83 L596.67 105.83 L599.17 108.33 L601.67 110 L605 107.5 L605.83 113.33 L607.5 117.5 L601.67 116.67 L595 115.83 L590 116.67 L585.83 115.83 L578.33 116.67 L575 119.17 L574.17 120.83 L576.67 120 L580 124.17 L586.67 125 L589.17 125.83 L591.67 122.5 L593.33 124.17 L598.33 125.83 L606.67 127.5 L605 130.83 L599.17 132.5 L597.5 134.17 L600 136.67 L605 136.67 L610 135 L613.33 134.17 L615 137.5 L612.5 143.33 L612.5 150 L613.33 155.83 L610 160 L605 164.17 L600 168.33 L595 173.33 L591.67 177.5 L588.33 180.83 L586.67 184.17 L587.5 188.33 L591.67 192.5 L595 196.67 L596.67 198 L598 201.25 L605.5 208.75 L609.25 213.75 L610.5 220 L611.75 226.25 L616.75 227.5 L615.5 235 L623 237.5 L633 239 L634 238 L638.5 233 L643 228 L646.2 232 L642 237.5 L644.5 242.5 L645 250 L648.3 262 L649.75 262 L648.5 272 L649.75 283.25 L656 288.25 L656 297 L653.5 305.75 L655.5 314.5 L651.5 324.5 L651 339.5 L653 349.5 L658.5 354.5 L668.5 360.75 L681 365.75 L692.25 370.75 L701 377 L708.5 379.5 L718.5 380 L723.5 378.25 L723.5 374 L727.25 375.75 L729.75 379.5 L736 380 L741 377.5 L743.5 383.25 L744 387 L748.5 388.25 L747.83 390 L747 396.67 L746.17 404.17 L748.67 406.67 L752 408.33 L755.33 411.67 L760.33 413.33 L765.33 415.83 L770.33 419.17 L775.33 420.83 L778.67 423.33 L782 425.83 L785.33 430 L790.33 432.5 L793.67 436.67 L797 438.33 L801.17 438.67 L802 441.67 L798.67 445.83 L794.5 444.17 L789.5 443.33 L783.67 445 L780.33 445.83 L775.33 442.5 L770.33 440 L766.17 436.67 L764.5 433 L760.33 432.5 L755.33 434.17 L751.17 437.5 L750 439.67 L753.67 442.5 L758.67 445 L761.17 445.83 L760.33 450.83 L761.17 455.83 L759.5 459.17 L759 463.33 L753.67 464.17 L748.67 465.83 L745.33 469.17 L742.83 471.67 L742 475.83 L739.5 477.5 L738.67 480.83 L742 482.5 L747 480.83 L748.67 481.67 L750.33 487.5 L752.83 490 L753.67 494.17 L756.17 499.17 L757.83 501.67 L753.67 503.33 L748.67 504.17 L745.33 505 L742 503.33 L738.67 502.5 L733.67 501.33 L727.83 502.5 L724.5 505 L722 508.33 L718.67 512.5 L715.33 511.67 L713.67 509.17 L714.5 505 L710.33 503.33 L707 502.5 L705.33 505 L703.67 508.33 L700.33 506.67 L697.83 505 L694.5 503.83 L690.33 505 L685.33 506.67 L681.17 508.33 L677.83 511.67 L677 515.83 L675.67 513.33 L674.5 510.83 L670.33 510 L663.67 509.17 L655.33 508.67 L653.67 510 L652 508.33 L645.33 506.67 L638.67 505 L632 503.33 L632.08 504 L630 502.08 L626.67 500 L623.33 497.5 L619.17 497.08 L614.17 497.5 L615.83 497.08 L617.92 495.83 L618.33 493.33 L621.25 492.08 L617.92 491.67 L618.75 490 L619.83 489.17 L620.42 486.67 L621.25 485 L623.33 485.42 L627.5 485.83 L631.67 485.67 L634.17 485 L637.5 485.67 L641.67 487.08 L645.83 488.33 L649.17 488.75 L649.58 487.5 L647.5 486.67 L645.83 482.5 L645 478.33 L645.83 475 L645 471.67 L644.17 469.17 L641.67 469.58 L638.33 470 L635.42 468.75 L634.17 465.83 L633.33 463.33 L634.58 461.25 L632.92 459.17 L630 457.08 L626.67 457.92 L623.33 458.75 L619.17 459.17 L615.83 457.92 L613.33 455.42 L609.17 454.17 L605 452.5 L601.67 450 L596.67 448.33 L592.5 446.25 L585 445.83 L580 444.58 L575 443.33 L569.17 441.67 L566.67 439.17 L568.33 435.83 L571.67 434.67 L576.67 435.83 L581.67 435 L582.5 432.5 L580.83 429.17 L576.67 427.5 L566.67 427.5 L561.67 428.33 L560.83 434.17 L559.17 438.33 L560.83 439.17 L562.5 435.83 L564.17 436.67 L563.33 439.17 L565 441.67 L571.67 444.17 L580 446.67 L580 447.08 L584.17 448.33 L590 448.75 L594.17 449.58 L599.17 451.67 L603.33 453.33 L604.58 455.42 L608.33 456.67 L612.5 457.5 L614.58 459.58 L617.5 460.42 L621.67 460.42 L624.17 461.67 L626.67 462.92 L629.17 464.17 L631.67 465 L633.33 467.5 L632.5 468.75 L633.33 471.25 L636.67 472.5 L640 474.17 L642.5 476.67 L643.33 477.92 L641.67 479.17 L639.58 481.67 L637.5 482.5 L635 482.08 L631.67 481.25 L628.33 480 L626.67 478.33 L625.42 476.25 L624.17 477.5 L622.5 478.75 L620 479.17 L617.5 479.17 L616.67 476.67 L614.58 476.25 L612.5 474.17 L610.83 475.42 L608.75 477.5 L607.5 478.33 L610 480 L612.5 481.25 L612.92 482.5 L610.83 483.75 L608.33 485.42 L607.08 486.67 L607.5 489.17 L607.5 491.67 L605.83 492.5 L604.17 491.67 L603.75 490.42 L600.83 490.83 L596.67 492.08 L595.42 493.33 L592.5 493.33 L588.33 494.58 L586.67 495.42 L585 494.17 L583.33 491.67 L582.5 489.17 L580.83 488.75 L580 487.92 L578.33 484.17 L573.33 483.33 L566.67 482.5 L560 480.83 L555 479.17 L548.33 478.33 L544.17 475 L543.33 472.5 L545 470 L550.83 470 L556.67 471.67 L559.17 474.17 L564.17 472.5 L570 472.5 L572.5 471.67 L569.17 467.5 L563.33 465.83 L556.67 463.33 L551.67 460.83 L550.83 457.5 L546.67 457.5 L542.5 456.67 L546.67 454.17 L550.83 450 L551.67 447 L546.67 446.67 L540 445.83 L535 444.17 L530.83 440.83 L528.33 437.5 L525 436.33 L520.83 438.33 L519.5 441.67 L521.67 445 L526.67 445.83 L530 447.5 L530.83 455 L532.5 460 L530.83 466.67 L531.33 470 L530 473.33 L523.33 473.33 L518.33 472.5 L511.67 471.67 L501.67 474.17 L495.83 475.83 L495 479.17 L492 480.83 L492.5 482.5 L496.67 484.17 L499.17 486.67 L498.33 491.67 L493.33 496.67 L488.33 501.67 L481.67 510 L477 515.33"/>
<path d="M476.75 514.75 L468 526.5 L473 531.5 L483 532.75 L487.5 535.25 L486.75 539 L478 541.5 L466.75 541.5 L459.25 538.5 L450.5 537.75 L446.75 540.25 L441.75 541.5 L435.5 539.5 L430.5 542.75 L423 549 L419.25 555.25 L414.25 559 L408 564 L404.25 569 L403 575.25 L396.75 579 L389.25 582.75 L387.5 586.5 L389.25 591.5 L393 596.5 L395 604 L399.25 605.25 L405.5 602.75 L410.5 601 L414.25 602.75 L411.75 606.5 L405.5 607.75 L399.25 611 L393 609 L385.5 606 L378 605.25 L374.25 602.75 L368 599 L360.5 596.5 L353 594.75 L348 594.5 L343.75 594.5 L350 595.5 L358.3 597.3 L366.7 601.7 L365 605 L368.3 610 L375 611.7 L380 617.3 L386.7 620 L392.7 625 L393.3 631.7 L388.3 636 L378.3 641.7 L371.7 647.3 L365 650.7 L360 649.3 L356.7 643.3 L343.3 644 L333.3 643.3 L331.7 647.3 L326.7 650 L320 645 L313.3 641 L306.25 639 L302.5 634 L306.25 631.5 L312.5 627.75 L318.75 621.5 L322.5 614 L322 606 L315 608.5 L307.5 607 L301.25 609 L298.75 612.75 L292.5 614 L287.5 611.5 L280 611 L272.5 612 L263.75 611.5 L258.75 615.25 L255 619 L256.25 624 L260 626.5 L258.75 629 L252.5 632.75 L248.75 639 L242.5 640.25 L235 643.5 L226.25 644 L226.25 641.5 L220 639 L210 635.25 L202.5 630.25 L197.5 624 L190 620.25 L181.25 616.5 L176.25 612 L170 611.5 L162.5 610.25 L156.25 607 L150 606.5 L146.25 611.5 L145 607.75 L136.25 607 L143.75 604.75 L140 602.75 L135 597.75 L133.75 590.25 L135 585.25 L143.75 582.75 L146.25 580.25 L140 579 L132.5 578.25 L126.25 580.25 L120 582 L112.5 584 L107.5 587 L100 585.25 L93.75 584 L87.5 580.25 L83.75 581.5 L77.5 577.75 L76.25 572.75 L73.75 566.5 L69.25 564"/>
<path d="M216.7 535.8 L220 537.7 L226.7 537.7 L230 535"/>
<path d="M205.5 148.5 L210 151.25 L220 153.75 L230 157.5 L235 158.75 L245 157.5 L252.5 152.5 L251.25 149.5 L260 148 L266.25 146.25 L266.25 152.5 L262.5 160 L258.75 166.25 L256.25 172.5 L262.5 171.25 L256.25 173.75 L253.75 180 L252.5 190 L255 200 L258.75 206.25 L263.75 201.25 L260 197.5 L257.5 200 L260 206.25 L263.75 210 L260 217.5 L265 223.75 L270 228.75 L270 232.5 L266.25 233.75 L262.5 227.5 L255 221.25 L247.5 217.5 L243.75 210 L241.25 203.75 L248.75 200 L248.75 196.25 L242.5 192.5 L240 185 L241.25 177.5 L235 170 L230 161.25 L220 155 L207.5 151.25 Z"/>
<path d="M175 257.5 L185 257.5 L186.25 262 L185 264.5 L181.25 269.5 L182.5 271.5 L187.5 272 L193.75 269.5 L195.75 271.5 L192.5 274.5 L187.5 278.25 L180 283.25 L172.5 285.75 L170 289.5 L165 297 L162.5 302 L157.5 303.25 L153 305.75 L155 308.25 L160 310.75 L166.25 312 L166.25 314.5 L161.25 315.75 L161.25 324.5 L160 333.25 L161.25 339.5 L160 347 L156.25 345.75 L152 342 L150.5 337 L152.5 334.5 L156.25 332 L156.25 323.25 L151.25 320.75 L146.25 318.25 L143.75 310.75 L146.25 307 L142.5 305.75 L138.75 303.25 L141.25 299.5 L147.5 294.5 L150 289.5 L156.25 288.25 L160 284.5 L161.25 274.5 L165 269.5 L172.5 262 Z"/>
<path d="M530.5 352 L538 349.5 L543 343.25 L548 345.75 L551 347 L548 350.75 L544.25 355.75 L541.75 362 L538 363.25 L533 363.25 L532.5 358.25 L533.5 355 Z"/>
<path d="M585.5 322 L591.75 318.25 L598 320.75 L605.5 322.75 L615.5 322 L619.25 328.25 L619.25 333.25 L613 337 L611.75 343.25 L611.75 348.25 L615.5 349.5 L617.5 353.25 L616.75 358.25 L610.5 356.5 L603 352 L604.25 347 L606.75 342 L603 337 L595.5 333.25 L590.5 328.25 Z"/>
<path d="M393 443.25 L398 440.25 L405.5 442 L413 445.75 L420.5 446.5 L425 448.25 L423 452 L415.5 452.5 L408 450.75 L400.5 448.25 L394.25 445.75 Z"/>
<path d="M738.67 512.5 L742 511.33 L744 512.5 L743.33 516.67 L742.33 523.33 L740.33 526.67 L738.67 523.33 L739.5 516.67 L741.17 514.17 Z"/>
<path d="M381.7 654 L385 645 L390 640 L396 639.3 L396.7 643.3 L391.7 645 L389.3 654 Z"/>
<path d="M213.75 574 L223.75 565.25 L228.75 577.75 L215 577 Z"/>
</g>
<g fill="none" stroke="#000" stroke-width="0.8" shape-rendering="geometricPrecision">
<path d="M448 316.5 L452.5 312 L457 316.5 L452.5 321 Z" stroke-width="1"/>
<path d="M450.1 316.5 L452.5 314.1 L454.9 316.5 L452.5 318.9 Z" stroke="#8a0000" stroke-width="1"/>
<path d="M499 280.5 L503.5 276 L508 280.5 L503.5 285 Z" stroke-width="1"/>
<path d="M501.1 280.5 L503.5 278.1 L505.9 280.5 L503.5 282.9 Z" stroke="#8a0000" stroke-width="1"/>
<path d="M470 447.5 L474.5 443 L479 447.5 L474.5 452 Z" stroke-width="1"/>
<path d="M472.1 447.5 L474.5 445.1 L476.9 447.5 L474.5 449.9 Z" stroke="#8a0000" stroke-width="1"/>
<path d="M585 428.5 L589.5 424 L594 428.5 L589.5 433 Z" stroke-width="1"/>
<path d="M587.1 428.5 L589.5 426.1 L591.9 428.5 L589.5 430.9 Z" stroke="#8a0000" stroke-width="1"/>
<path d="M608 442.5 L612.5 438 L617 442.5 L612.5 447 Z" stroke-width="1"/>
<path d="M610.1 442.5 L612.5 440.1 L614.9 442.5 L612.5 444.9 Z" stroke="#8a0000" stroke-width="1"/>
<path d="M470 466.5 L474.5 462 L479 466.5 L474.5 471 Z" stroke-width="1"/>
<path d="M472.1 466.5 L474.5 464.1 L476.9 466.5 L474.5 468.9 Z" stroke="#8a0000" stroke-width="1"/>
<path d="M504 466.5 L508.5 462 L513 466.5 L508.5 471 Z" stroke-width="1"/>
<path d="M506.1 466.5 L508.5 464.1 L510.9 466.5 L508.5 468.9 Z" stroke="#8a0000" stroke-width="1"/>
<path d="M648 402.5 L652.5 398 L657 402.5 L652.5 407 Z" stroke-width="1"/>
<path d="M650.1 402.5 L652.5 400.1 L654.9 402.5 L652.5 404.9 Z" stroke="#8a0000" stroke-width="1"/>
<path d="M636 423.5 L640.5 419 L645 423.5 L640.5 428 Z" stroke-width="1"/>
<path d="M638.1 423.5 L640.5 421.1 L642.9 423.5 L640.5 425.9 Z" stroke="#8a0000" stroke-width="1"/>
<path d="M706 391.5 L710.5 387 L715 391.5 L710.5 396 Z" stroke-width="1"/>
<path d="M708.1 391.5 L710.5 389.1 L712.9 391.5 L710.5 393.9 Z" stroke="#8a0000" stroke-width="1"/>
<path d="M716 416.5 L720.5 412 L725 416.5 L720.5 421 Z" stroke-width="1"/>
<path d="M718.1 416.5 L720.5 414.1 L722.9 416.5 L720.5 418.9 Z" stroke="#8a0000" stroke-width="1"/>
<path d="M736 423.5 L740.5 419 L745 423.5 L740.5 428 Z" stroke-width="1"/>
<path d="M738.1 423.5 L740.5 421.1 L742.9 423.5 L740.5 425.9 Z" stroke="#8a0000" stroke-width="1"/>
<path d="M731 428.5 L735.5 424 L740 428.5 L735.5 433 Z" stroke-width="1"/>
<path d="M733.1 428.5 L735.5 426.1 L737.9 428.5 L735.5 430.9 Z" stroke="#8a0000" stroke-width="1"/>
<path d="M794 441.5 L798.5 437 L803 441.5 L798.5 446 Z" stroke-width="1"/>
<path d="M796.1 441.5 L798.5 439.1 L800.9 441.5 L798.5 443.9 Z" stroke="#8a0000" stroke-width="1"/>
<path d="M724 492.5 L728.5 488 L733 492.5 L728.5 497 Z" stroke-width="1"/>
<path d="M726.1 492.5 L728.5 490.1 L730.9 492.5 L728.5 494.9 Z" stroke="#8a0000" stroke-width="1"/>
<path d="M626 462.5 L630.5 458 L635 462.5 L630.5 467 Z" stroke-width="1"/>
<path d="M628.1 462.5 L630.5 460.1 L632.9 462.5 L630.5 464.9 Z" stroke="#8a0000" stroke-width="1"/>
<path d="M570 126.5 L574.5 122 L579 126.5 L574.5 131 Z" stroke-width="1"/>
<path d="M572.1 126.5 L574.5 124.1 L576.9 126.5 L574.5 128.9 Z" stroke="#8a0000" stroke-width="1"/>
</g>
</g>
<rect x="123" y="689" width="750" height="31" fill="#f0f0f0"/>
<rect x="114" y="682" width="752" height="33" fill="#ffffff"/>
<rect x="115.5" y="683.5" width="54" height="30" fill="#fff7ec"/>
<rect x="169" y="683.5" width="54" height="30" fill="#feeed7"/>
<rect x="222.5" y="683.5" width="54" height="30" fill="#fee4bf"/>
<rect x="276" y="683.5" width="54" height="30" fill="#fdd6a3"/>
<rect x="329.5" y="683.5" width="54" height="30" fill="#fdc68e"/>
<rect x="383" y="683.5" width="54" height="30" fill="#fcb47d"/>
<rect x="436.5" y="683.5" width="54" height="30" fill="#f9945f"/>
<rect x="490" y="683.5" width="54" height="30" fill="#f37951"/>
<rect x="543.5" y="683.5" width="54" height="30" fill="#ea5c40"/>
<rect x="597" y="683.5" width="54" height="30" fill="#dd3c28"/>
<rect x="650.5" y="683.5" width="54" height="30" fill="#cc2117"/>
<rect x="704" y="683.5" width="54" height="30" fill="#b90a07"/>
<rect x="757.5" y="683.5" width="54" height="30" fill="#a10000"/>
<rect x="811" y="683.5" width="54" height="30" fill="#7f0000"/>
<rect x="115.5" y="683.5" width="749" height="30" fill="none" stroke="#000" stroke-width="1"/>
<path d="M115.5 683.5 L115.5 717.5" stroke="#000" stroke-width="1"/>
<path d="M222.5 683.5 L222.5 717.5" stroke="#000" stroke-width="1"/>
<path d="M329.5 683.5 L329.5 717.5" stroke="#000" stroke-width="1"/>
<path d="M436.5 683.5 L436.5 717.5" stroke="#000" stroke-width="1"/>
<path d="M543.5 683.5 L543.5 717.5" stroke="#000" stroke-width="1"/>
<path d="M650.5 683.5 L650.5 717.5" stroke="#000" stroke-width="1"/>
<path d="M757.5 683.5 L757.5 717.5" stroke="#000" stroke-width="1"/>
<path d="M864.5 683.5 L864.5 717.5" stroke="#000" stroke-width="1"/>
<g font-family="'Liberation Sans', sans-serif" font-size="10.5" fill="#000" text-anchor="middle" shape-rendering="auto" text-rendering="geometricPrecision">
<text x="115.2" y="727">16</text>
<text x="222.2" y="727">17</text>
<text x="329.2" y="727">18</text>
<text x="436.2" y="727">19</text>
<text x="543.2" y="727">20</text>
<text x="650.2" y="727">21</text>
<text x="757.2" y="727">22</text>
<text x="864.2" y="727">23</text>
</g>
<text y="737.5" font-family="'Liberation Sans', sans-serif" font-size="10.8" fill="#000" shape-rendering="auto"><tspan x="426.5">°C</tspan><tspan x="449.2" textLength="67.5">2026/04/20</tspan><tspan x="524.2" textLength="28.5">15:03</tspan></text>
<text y="69.7" font-family="'DejaVu Sans', 'Liberation Sans', sans-serif" font-weight="200" font-size="16" fill="#000" stroke="#000" stroke-width="0.3" shape-rendering="auto"><tspan x="297.8" textLength="148.2">VictoriaWeather.ca</tspan><tspan x="455" textLength="30" lengthAdjust="spacingAndGlyphs">--</tspan><tspan x="492" textLength="100.8">Temperature</tspan></text>
</svg>
</body></html>
